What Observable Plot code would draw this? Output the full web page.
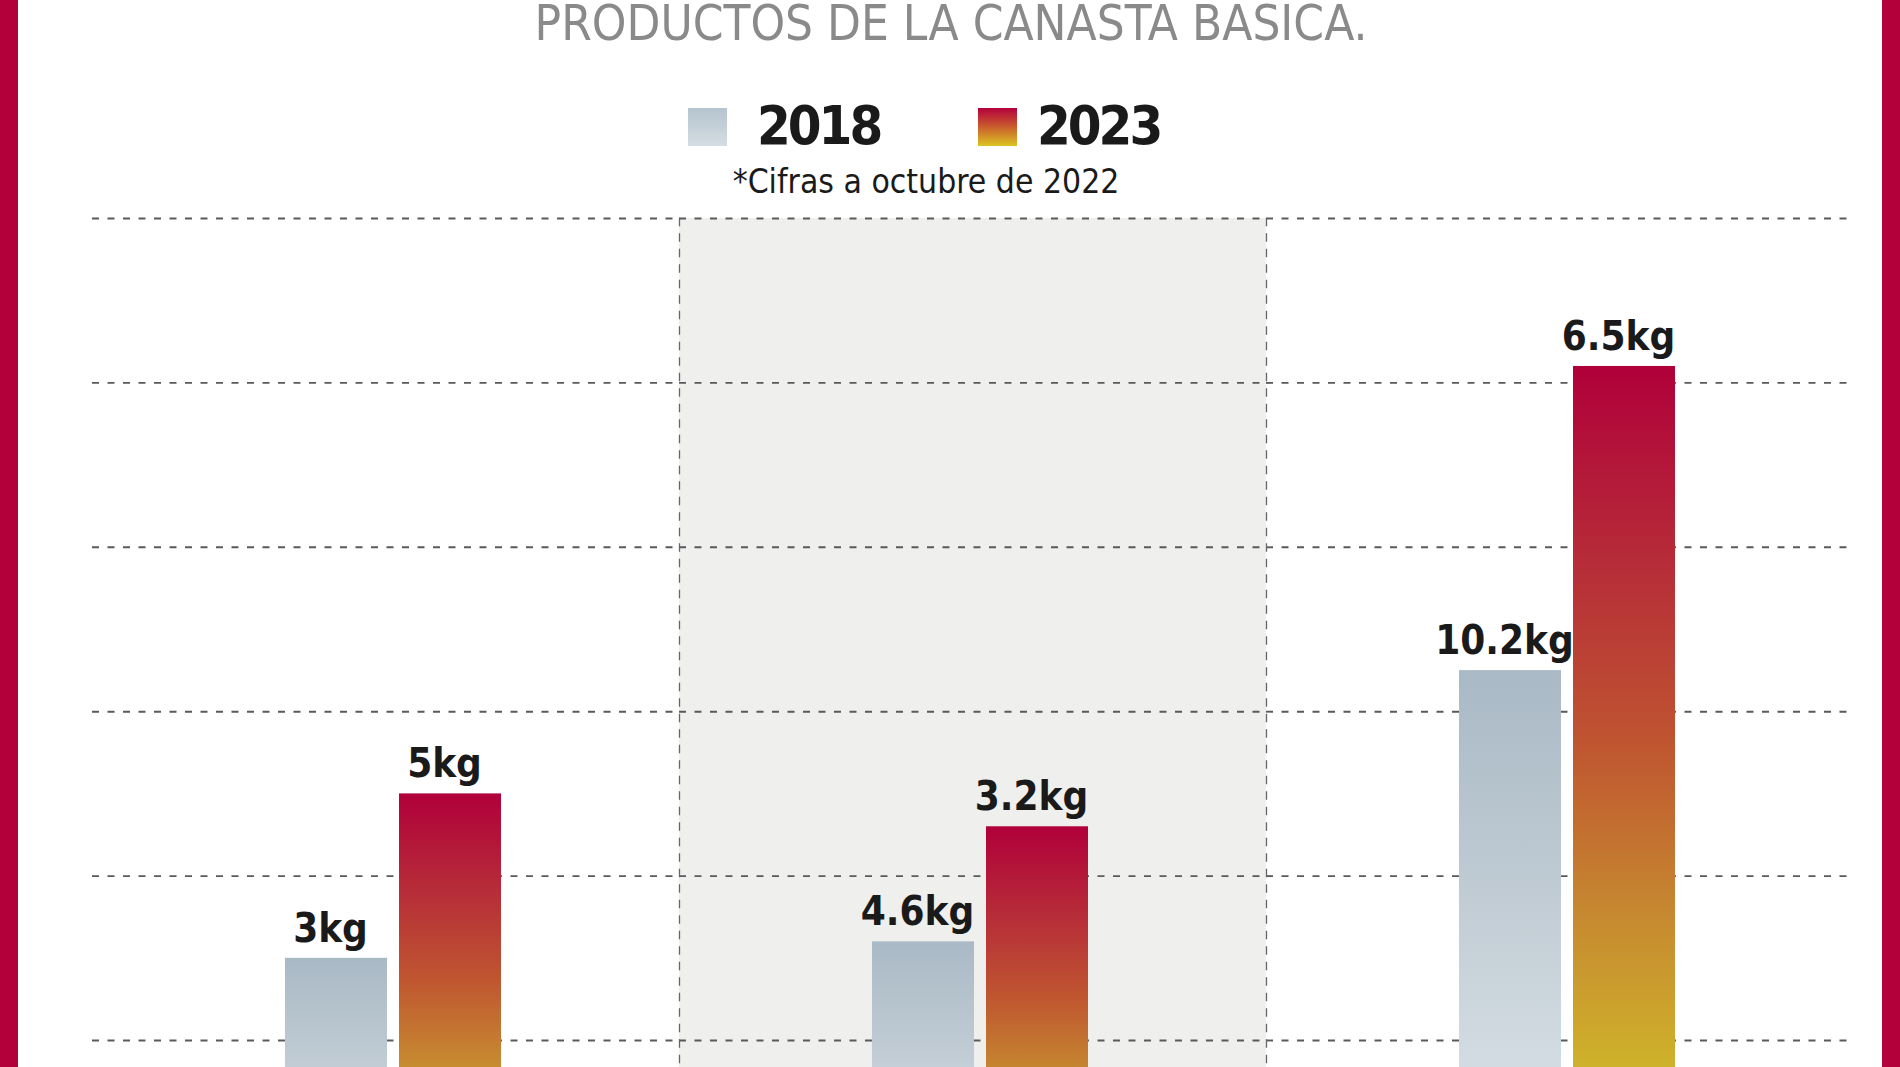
<!DOCTYPE html>
<html>
<head>
<meta charset="utf-8">
<script src="https://cdn.jsdelivr.net/npm/d3@7"></script>
<script src="https://cdn.jsdelivr.net/npm/@observablehq/plot@0.6"></script>
<style>
  html, body { margin: 0; padding: 0; background: #fff; overflow: hidden; }
  #page { position: relative; width: 1900px; height: 1067px; overflow: hidden; background: #fff;
    font-family: "DejaVu Sans Condensed", "DejaVu Sans", sans-serif; font-stretch: condensed; }
  .border { position: absolute; top: 0; bottom: 0; width: 18px; background: #b3003b; z-index: 5; }
  #title { position: absolute; left: 951px; top: -1.5px; transform: translateX(-50%);
    font-size: 49px; line-height: 1; color: #8a8a8a; white-space: nowrap; }
  #subtitle { position: absolute; left: 926px; top: 165px; transform: translateX(-50%);
    font-size: 33.4px; line-height: 1; color: #1a1a1a; white-space: nowrap; }
  .swatch { position: absolute; top: 108px; width: 39px; height: 38px; }
  .legtext { position: absolute; top: 99px; font-size: 54px; line-height: 1; font-weight: bold;
    color: #1a1a1a; white-space: nowrap; letter-spacing: -3px; }
  #chart { position: absolute; left: 0; top: 205px; }
  #chart svg { overflow: hidden; display: block; }
  #chart svg text { font-stretch: condensed; }
</style>
</head>
<body>
<div id="page">
  <div class="border" style="left:0"></div>
  <div class="border" style="left:1882px"></div>
  <div id="title"></div>
  <div id="legend"></div>
  <div id="subtitle"></div>
  <div id="chart"></div>
</div>
<script>
// ---- data ----
const titleText = "PRODUCTOS DE LA CANASTA BASICA.";
const noteText = "*Cifras a octubre de 2022";
const categories = ["Producto 1", "Producto 2", "Producto 3"]; // names are cut off in the image
const years = ["2018", "2023"];
const values2018 = [3, 3.2, 6.5];     // bar heights (kg)
const values2023 = [5, 4.6, 10.2];
const labels2018 = ["3kg", "4.6kg", "10.2kg"];   // labels as printed
const labels2023 = ["5kg", "3.2kg", "6.5kg"];
const gridTicks = [2, 4, 6, 8, 10, 12];
const shadedCategories = [categories[1]];
const edgeCategories = [categories[1], categories[2]];

const gradients = {
  "2018": [[0, "#a9b9c5"], [0.45, "#c2cdd5"], [0.75, "#d3dce2"], [1, "#dde4e9"]],
  "2023": [[0, "#b0003a"], [0.25, "#b72f38"], [0.45, "#bf5530"], [0.65, "#c68830"], [0.85, "#cfb52a"], [1, "#d6c824"]]
};
const swatchGradients = {
  "2018": "linear-gradient(to bottom, #b5c4ce, #d4dde3)",
  "2023": "linear-gradient(to bottom, #b3003b, #c8542e 45%, #dcc522)"
};

// ---- header ----
document.getElementById("title").textContent = titleText;
document.getElementById("subtitle").textContent = noteText;
const legend = document.getElementById("legend");
const legendPos = {"2018": [688, 757], "2023": [978, 1037]};
years.forEach(y => {
  const sw = document.createElement("div");
  sw.className = "swatch";
  sw.style.left = legendPos[y][0] + "px";
  sw.style.background = swatchGradients[y];
  legend.appendChild(sw);
  const t = document.createElement("div");
  t.className = "legtext";
  t.style.left = legendPos[y][1] + "px";
  t.textContent = y;
  legend.appendChild(t);
});

// ---- chart ----
const rows = categories.flatMap((c, i) => [
  {cat: c, year: years[0], value: values2018[i], label: labels2018[i]},
  {cat: c, year: years[1], value: values2023[i], label: labels2023[i]}
]);
const gradFill = {"2018": "url(#grad2018)", "2023": "url(#grad2023)"};
const fontFamily = "'DejaVu Sans Condensed', 'DejaVu Sans', sans-serif";
const dash = "7 8.5";

const marks = [
  Plot.rect(shadedCategories, {fx: d => d, y1: 0, y2: 12, fill: "#efefed"}),
  Plot.ruleY(gridTicks, {stroke: "#5a5a5a", strokeWidth: 1.9, strokeDasharray: dash}),
  ...edgeCategories.map(c => Plot.frame({anchor: "left", fx: c, stroke: "#666", strokeWidth: 1.3, strokeDasharray: dash})),
  Plot.barY(rows, {fx: "cat", x: "year", y: "value", fill: d => gradFill[d.year], inset: 0}),
  Plot.text(rows, {fx: "cat", x: "year", y: "value", text: "label", dy: -29.5, dx: -6,
    fontSize: 40, fontWeight: "bold", fill: "#1a1a1a", fontFamily})
];

const svg = Plot.plot({
  width: 1900, height: 862,
  marginTop: 13, marginBottom: 0, marginLeft: 91, marginRight: 56,
  style: {background: "transparent", fontFamily},
  fx: {domain: categories, range: [91.1, 1853.6], padding: 0, axis: null},
  x: {domain: years, paddingInner: 0.1043, paddingOuter: 1.6067, align: 0.5207, axis: null},
  y: {domain: [0, 12], range: [999.4, 13], axis: null},
  color: {type: "identity"},
  marks
});

// gradient definitions for the bar fills
const ns = "http://www.w3.org/2000/svg";
const defs = document.createElementNS(ns, "defs");
Object.entries(gradients).forEach(([year, stops]) => {
  const g = document.createElementNS(ns, "linearGradient");
  g.setAttribute("id", "grad" + year);
  g.setAttribute("x1", "0"); g.setAttribute("y1", "0");
  g.setAttribute("x2", "0"); g.setAttribute("y2", "1");
  stops.forEach(([o, c]) => {
    const s = document.createElementNS(ns, "stop");
    s.setAttribute("offset", o);
    s.setAttribute("stop-color", c);
    g.appendChild(s);
  });
  defs.appendChild(g);
});
svg.insertBefore(defs, svg.firstChild);
document.getElementById("chart").appendChild(svg);
</script>
</body>
</html>
